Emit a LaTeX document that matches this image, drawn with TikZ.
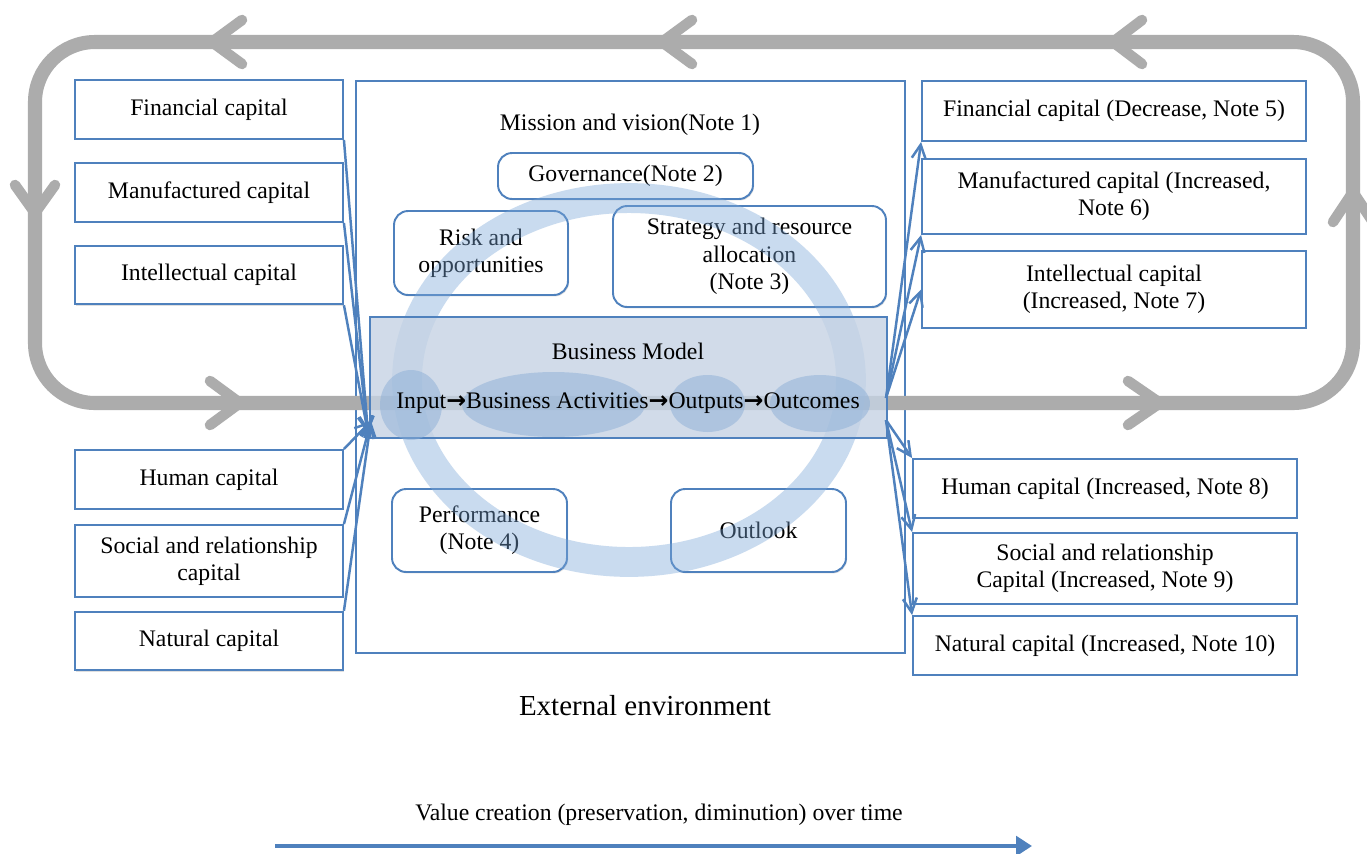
\documentclass[tikz,border=0pt]{standalone}
\usepackage{fontspec}
\setmainfont{Liberation Serif}
\newfontfamily\arrfont{DejaVu Sans}
\usetikzlibrary{shapes.geometric,arrows.meta,shadows}
\definecolor{bblue}{RGB}{79,129,189}
\definecolor{loopgray}{RGB}{172,172,172}
\definecolor{ringblue}{RGB}{120,165,215}
\definecolor{bmfill}{RGB}{198,211,228}
\definecolor{ellfill}{RGB}{140,175,215}
\begin{document}
\begin{tikzpicture}[x=0.02cm,y=-0.02cm,
  font=\fontsize{13.5}{15.5}\selectfont,
  capbox/.style={draw=bblue,line width=1.1pt,fill=white,align=center,inner sep=1pt,
    drop shadow={opacity=0.25,shadow xshift=0.6pt,shadow yshift=-0.8pt}},
  rbox/.style={capbox,rounded corners=8pt},
  ell/.style={ellipse,fill=ellfill,fill opacity=0.5,draw=none,inner sep=0pt},
  chev/.style={loopgray,line width=6pt,line cap=round,line join=round},
  conn/.style={bblue,line width=1.4pt,-{Straight Barb[length=8pt,width=8pt]}},
  plain/.style={inner sep=0pt}]
\fill[white] (0,0) rectangle (1367,853);
\useasboundingbox (0,0) rectangle (1367,853);

% central frame
\node[draw=bblue,line width=1.1pt,fill=white,minimum width=10.98cm,minimum height=11.44cm,
  drop shadow={opacity=0.25,shadow xshift=0.6pt,shadow yshift=-0.8pt}] (frame) at (630.5,367) {};
\node[plain] (mis) at (630,125) {Mission and vision(Note 1)};

% left capitals
\node[capbox,minimum width=5.36cm,minimum height=1.18cm] (L1) at (209,109.5) {Financial capital};
\node[capbox,minimum width=5.36cm,minimum height=1.18cm] (L2) at (209,192.5) {Manufactured capital};
\node[capbox,minimum width=5.36cm,minimum height=1.17cm] (L3) at (209,275) {Intellectual capital};
\node[capbox,minimum width=5.36cm,minimum height=1.18cm] (L4) at (209,479.5) {Human capital};
\node[capbox,minimum width=5.36cm,minimum height=1.44cm] (L5) at (209,561) {Social and relationship\\capital};
\node[capbox,minimum width=5.36cm,minimum height=1.17cm] (L6) at (209,641) {Natural capital};

% right capitals
\node[capbox,minimum width=7.68cm,minimum height=1.2cm] (R1) at (1114,111) {Financial capital (Decrease, Note 5)};
\node[capbox,minimum width=7.68cm,minimum height=1.5cm] (R2) at (1114,196.5) {Manufactured capital (Increased,\\Note 6)};
\node[capbox,minimum width=7.68cm,minimum height=1.54cm] (R3) at (1114,289.5) {Intellectual capital\\(Increased, Note 7)};
\node[capbox,minimum width=7.68cm,minimum height=1.18cm] (R4) at (1105,488.5) {Human capital (Increased, Note 8)};
\node[capbox,minimum width=7.68cm,minimum height=1.42cm] (R5) at (1105,568.5) {Social and relationship\\Capital (Increased, Note 9)};
\node[capbox,minimum width=7.68cm,minimum height=1.18cm] (R6) at (1105,645.5) {Natural capital (Increased, Note 10)};

% gray value loop
\draw[loopgray,line width=8pt,rounded corners=1.2cm] (35,42) rectangle (1353,403);
\draw[chev] (242,20) -- (212,42) -- (242,64);
\draw[chev] (692,20) -- (662,42) -- (692,64);
\draw[chev] (1142,20) -- (1113,42) -- (1142,64);
\draw[chev] (15,185) -- (35,213) -- (55,185);
\draw[chev] (210,381) -- (240,403) -- (210,425);
\draw[chev] (1128,381) -- (1160,403) -- (1128,425);
\draw[chev] (1333,222) -- (1353,192) -- (1373,222);

% inner boxes
\node[rbox,minimum width=5.1cm,minimum height=0.92cm] (gov) at (625.5,176) {Governance(Note 2)};
\node[rbox,minimum width=3.48cm,minimum height=1.68cm] (risk) at (481,253) {Risk and\\opportunities};
\node[rbox,minimum width=5.46cm,minimum height=2.02cm] (strat) at (749.5,256.5) {Strategy and resource\\allocation\\(Note 3)};
\node[rbox,minimum width=3.5cm,minimum height=1.66cm] (perf) at (479.5,530.5) {Performance\\(Note 4)};
\node[rbox,minimum width=3.5cm,minimum height=1.66cm] (outl) at (758.5,530.5) {Outlook};

% ring
\draw[ringblue,draw opacity=0.4,line width=17pt] (629,380) ellipse [x radius=4.44cm, y radius=3.64cm];

% business model
\node[draw=bblue,line width=1.1pt,fill=bmfill,fill opacity=0.8,minimum width=10.34cm,minimum height=2.42cm] (bm) at (628.5,377.5) {};
\node[plain] (bmt) at (628,351) {Business Model};
\node[ell,minimum width=1.24cm,minimum height=1.4cm] (e1) at (411,405) {};
\node[ell,minimum width=3.66cm,minimum height=1.3cm] (e2) at (553.5,404.5) {};
\node[ell,minimum width=1.5cm,minimum height=1.14cm] (e3) at (707.5,403.5) {};
\node[ell,minimum width=2.0cm,minimum height=1.14cm] (e4) at (820,403.5) {};
\node[plain] (flow) at (628,403) {Input{\arrfont\bfseries →}Business Activities{\arrfont\bfseries →}Outputs{\arrfont\bfseries →}Outcomes};

% connectors
\coordinate (cin1) at (368,433);
\coordinate (cin2) at (371,421);
\coordinate (cout1) at (886,398);
\coordinate (cout2) at (886,420);
\draw[conn] (L1.south east) -- (cin1);
\draw[conn] (L2.south east) -- (cin1);
\draw[conn] (L3.south east) -- (cin1);
\draw[conn] (L4.north east) -- (cin2);
\draw[conn] (L5.north east) -- (cin2);
\draw[conn] (L6.north east) -- (cin2);
\draw[conn] (cout1) -- (R1.south west);
\draw[conn] (cout1) -- (R2.south west);
\draw[conn] (cout1) -- (R3.west);
\draw[conn] (cout2) -- (R4.north west);
\draw[conn] (cout2) -- (R5.north west);
\draw[conn] (cout2) -- (R6.north west);

% bottom
\node[plain] (ext) at (645,706) {\fontsize{16.5}{19}\selectfont External environment};
\node[plain] (vc) at (659,815) {\fontsize{13.5}{16}\selectfont Value creation (preservation, diminution) over time};
\coordinate (va) at (275,846);
\coordinate (vb) at (1032,846);
\draw[bblue,line width=2.3pt,-{Triangle[length=9pt,width=11pt]}] (va) -- (vb);
\end{tikzpicture}
\end{document}
